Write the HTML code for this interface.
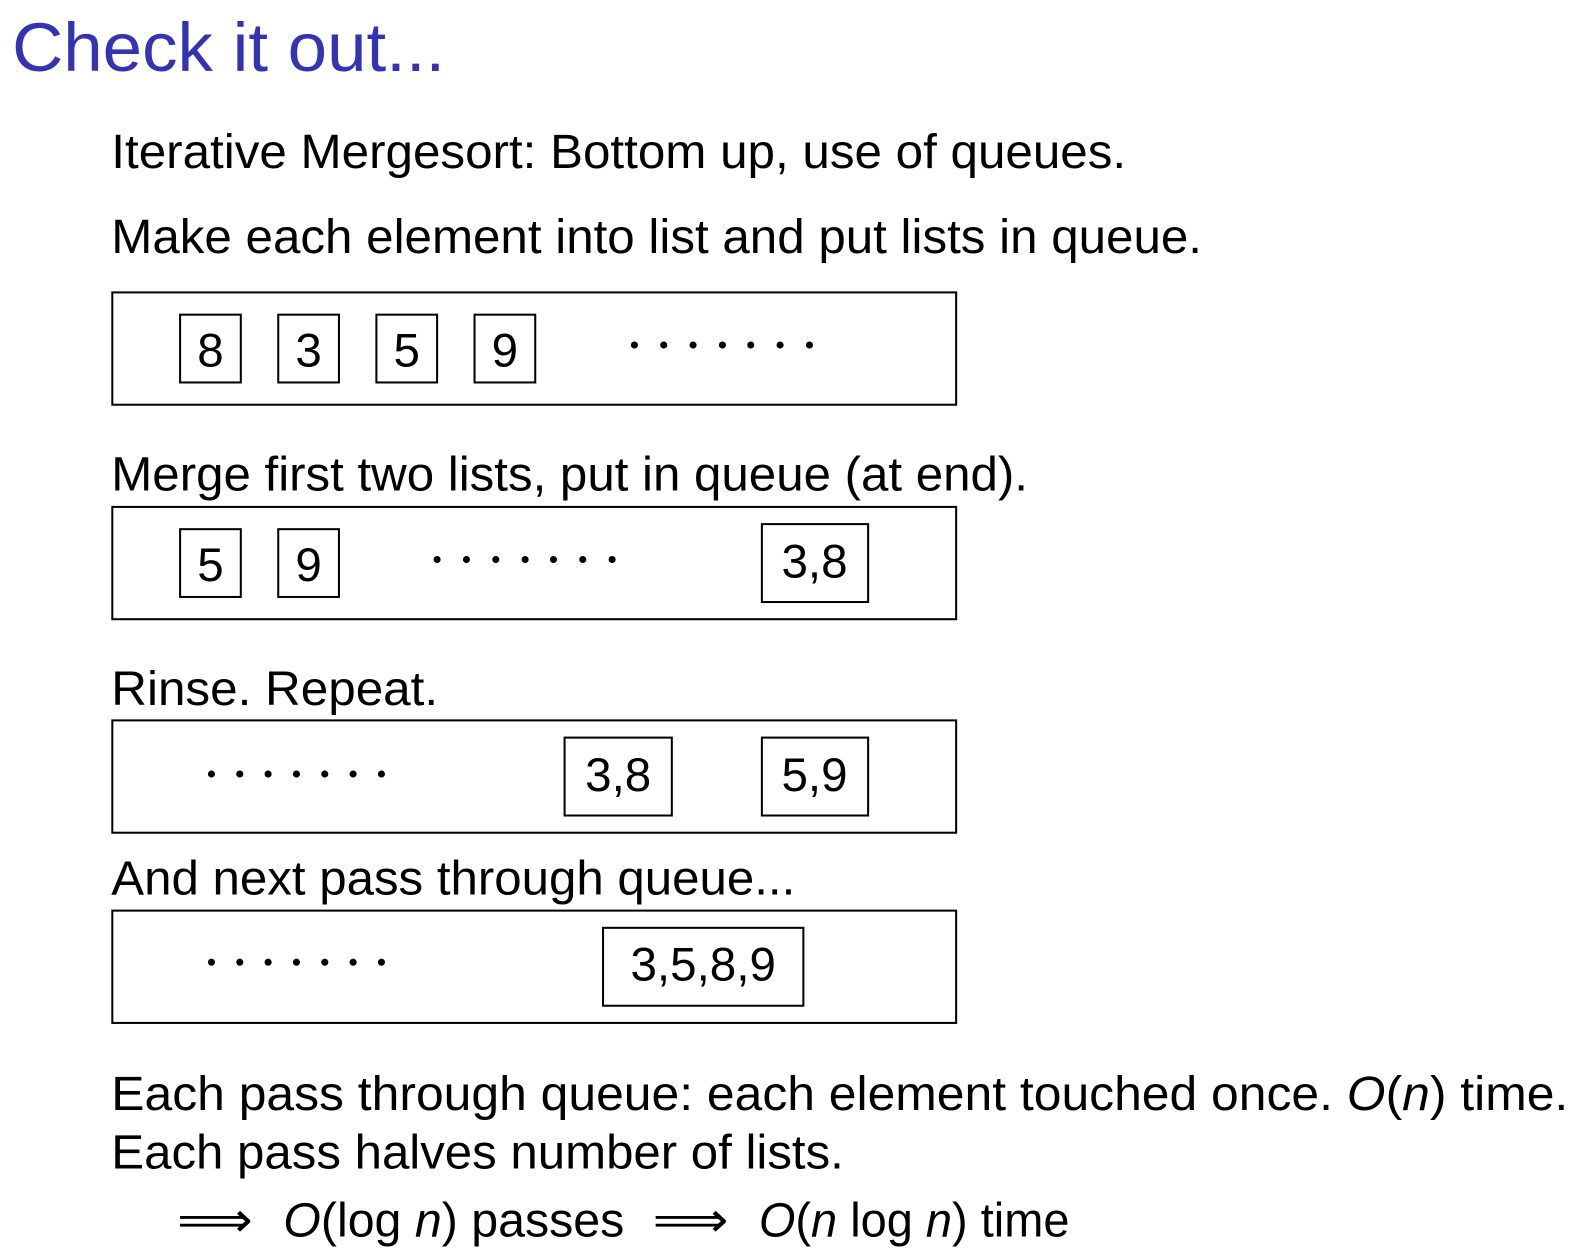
<!DOCTYPE html>
<html><head><meta charset="utf-8"><style>
html,body{margin:0;padding:0;background:#fff;}
svg{display:block;}
text{font-family:"Liberation Sans",Arial,sans-serif;}
</style></head><body>
<svg width="1586" height="1256" viewBox="0 0 1586 1256" xmlns="http://www.w3.org/2000/svg">
<g transform="scale(1.0118)">
<text x="12" y="70" font-size="68" fill="#3333b3" textLength="428" lengthAdjust="spacingAndGlyphs">Check it out...</text>
<g font-size="48" fill="#000">
<text x="110" y="166" textLength="1003" lengthAdjust="spacingAndGlyphs">Iterative Mergesort: Bottom up, use of queues.</text>
<text x="110" y="250" textLength="1078" lengthAdjust="spacingAndGlyphs">Make each element into list and put lists in queue.</text>
<text x="110" y="485" textLength="906" lengthAdjust="spacingAndGlyphs">Merge first two lists, put in queue (at end).</text>
<text x="110" y="697" textLength="323" lengthAdjust="spacingAndGlyphs">Rinse.  Repeat.</text>
<text x="110" y="884" textLength="676" lengthAdjust="spacingAndGlyphs">And next pass through queue...</text>
<text x="110" y="1097" textLength="1440" lengthAdjust="spacingAndGlyphs">Each pass through queue: each element touched once.  <tspan font-style="italic">O</tspan>(<tspan font-style="italic">n</tspan>) time.</text>
<text x="110" y="1155" textLength="724" lengthAdjust="spacingAndGlyphs">Each pass halves number of lists.</text>
<text x="175" y="1222" textLength="75" lengthAdjust="spacingAndGlyphs">⟹</text>
<text x="280" y="1222" textLength="337" lengthAdjust="spacingAndGlyphs"><tspan font-style="italic">O</tspan>(log <tspan font-style="italic">n</tspan>) passes</text>
<text x="645" y="1222" textLength="75" lengthAdjust="spacingAndGlyphs">⟹</text>
<text x="750" y="1222" textLength="307" lengthAdjust="spacingAndGlyphs"><tspan font-style="italic">O</tspan>(<tspan font-style="italic">n</tspan> log <tspan font-style="italic">n</tspan>) time</text>
</g>
<g fill="none" stroke="#000" stroke-width="2">
<rect x="111" y="289" width="834" height="111"/>
<rect x="111" y="501" width="834" height="111"/>
<rect x="111" y="712" width="834" height="111"/>
<rect x="111" y="900" width="834" height="111"/>
<rect x="178" y="311" width="60" height="67"/>
<rect x="275" y="311" width="60" height="67"/>
<rect x="372" y="311" width="60" height="67"/>
<rect x="469" y="311" width="60" height="67"/>
<rect x="178" y="523" width="60" height="67"/>
<rect x="275" y="523" width="60" height="67"/>
<rect x="753" y="518" width="105" height="77"/>
<rect x="558" y="729" width="106" height="77"/>
<rect x="753" y="729" width="105" height="77"/>
<rect x="596" y="917" width="198" height="77"/>
</g>
<g font-size="47" fill="#000" text-anchor="middle">
<text x="208" y="362">8</text><text x="305" y="362">3</text><text x="402" y="362">5</text><text x="499" y="362">9</text>
<text x="208" y="574">5</text><text x="305" y="574">9</text>
<text x="805" y="571">3,8</text>
<text x="611" y="782">3,8</text><text x="805" y="782">5,9</text>
<text x="695" y="969">3,5,8,9</text>
</g>
<g fill="#000">
<circle cx="627" cy="341" r="3.5"/><circle cx="656" cy="341" r="3.5"/><circle cx="685" cy="341" r="3.5"/><circle cx="714" cy="341" r="3.5"/><circle cx="742" cy="341" r="3.5"/><circle cx="771" cy="341" r="3.5"/><circle cx="800" cy="341" r="3.5"/>
<circle cx="432" cy="553" r="3.5"/><circle cx="461" cy="553" r="3.5"/><circle cx="490" cy="553" r="3.5"/><circle cx="519" cy="553" r="3.5"/><circle cx="547" cy="553" r="3.5"/><circle cx="576" cy="553" r="3.5"/><circle cx="605" cy="553" r="3.5"/>
<circle cx="209" cy="765" r="3.5"/><circle cx="237" cy="765" r="3.5"/><circle cx="265" cy="765" r="3.5"/><circle cx="293" cy="765" r="3.5"/><circle cx="321" cy="765" r="3.5"/><circle cx="349" cy="765" r="3.5"/><circle cx="377" cy="765" r="3.5"/>
<circle cx="209" cy="951" r="3.5"/><circle cx="237" cy="951" r="3.5"/><circle cx="265" cy="951" r="3.5"/><circle cx="293" cy="951" r="3.5"/><circle cx="321" cy="951" r="3.5"/><circle cx="349" cy="951" r="3.5"/><circle cx="377" cy="951" r="3.5"/>
</g>
</g>
</svg>
</body></html>
